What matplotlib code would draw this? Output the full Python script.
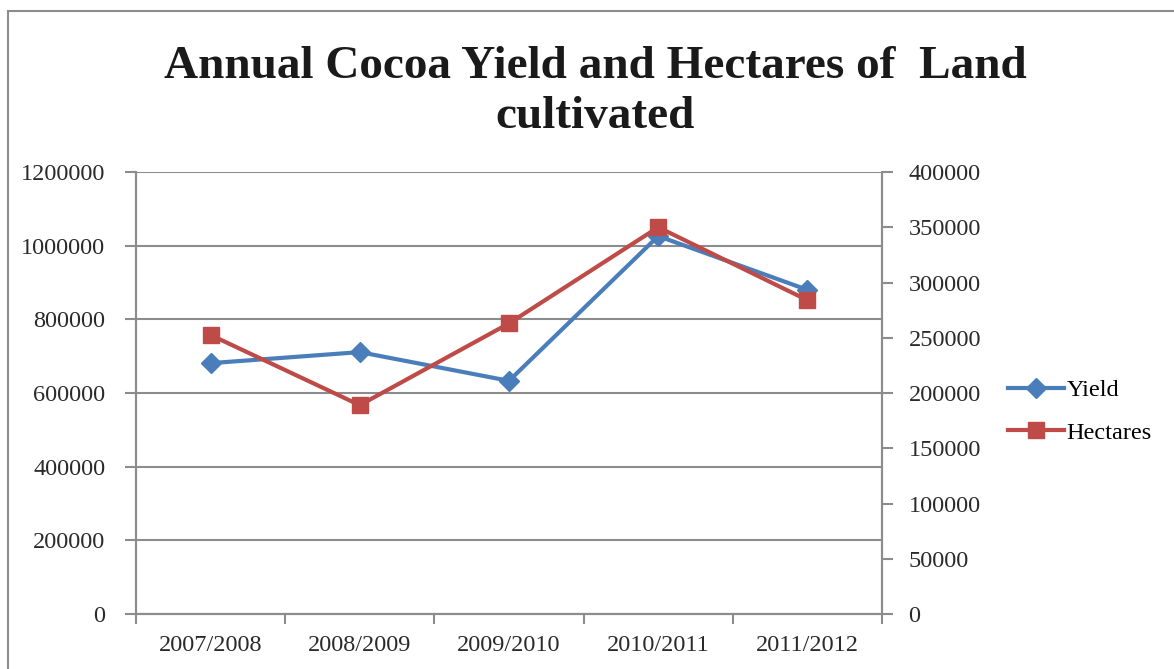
import matplotlib.pyplot as plt
from matplotlib.patches import Rectangle
from matplotlib.lines import Line2D
from matplotlib.ticker import StrMethodFormatter

plt.rcParams['font.family'] = ['Liberation Serif', 'DejaVu Serif']

seasons = ["2007/2008", "2008/2009", "2009/2010", "2010/2011", "2011/2012"]
yield_vals = [681000, 711000, 633000, 1026000, 880000]
hectares_vals = [252500, 189000, 263000, 350000, 284000]

blue = "#4A7EBB"
red = "#BE4B48"
grid_c = "#8C8C8C"
lab_size = 17.5

fig = plt.figure(figsize=(11.74, 6.69), dpi=100)
ax = fig.add_axes([0.1158, 0.0822, 0.6355, 0.6607])
ax2 = ax.twinx()

# outer chart frame
fig.patches.append(Rectangle((8 / 1174, -0.05), 1.2, (669 - 11) / 669 + 0.05,
                             transform=fig.transFigure, fill=False,
                             edgecolor="#8C8C8C", linewidth=1.5))

x = range(len(seasons))
ax.plot(x, yield_vals, color=blue, lw=3, marker="D", ms=10, zorder=3)
ax2.plot(x, hectares_vals, color=red, lw=3, marker="s", ms=11, zorder=3)

ax.set_xlim(-0.5, 4.5)
ax.set_ylim(0, 1200000)
ax2.set_ylim(0, 400000)
ax.set_yticks(range(0, 1200001, 200000))
ax2.set_yticks(range(0, 400001, 50000))
ax.yaxis.set_major_formatter(StrMethodFormatter("{x:.0f}"))
ax2.yaxis.set_major_formatter(StrMethodFormatter("{x:.0f}"))

ax.set_xticks([i + 0.5 for i in range(-1, 5)])
ax.set_xticklabels([])
ax.set_xticks(list(x), minor=True)
ax.set_xticklabels(seasons, minor=True)
ax.tick_params(axis="x", which="minor", length=0, pad=15, labelsize=lab_size)
ax.tick_params(axis="x", which="major", length=7, color=grid_c, width=1.5)
ax.tick_params(axis="y", length=8, color=grid_c, width=1.5, pad=14, labelsize=lab_size)
ax2.tick_params(axis="y", length=8, color=grid_c, width=1.5, pad=11, labelsize=lab_size)

ax.grid(axis="y", color=grid_c, lw=1.5)
for a in (ax, ax2):
    a.spines["top"].set_visible(False)
    for s in ("left", "right", "bottom"):
        a.spines[s].set_color(grid_c)
        a.spines[s].set_linewidth(1.5)
for t in ax.get_yticklabels() + ax2.get_yticklabels() + ax.get_xticklabels(minor=True):
    t.set_color("#2a2a2a")

fig.text(0.507, 0.862, "Annual Cocoa Yield and Hectares of  Land\ncultivated",
         ha="center", va="center", fontsize=34, fontweight="bold",
         color="#1a1a1a", linespacing=1.25)

handles = [Line2D([], [], color=blue, lw=3, marker="D", ms=10),
           Line2D([], [], color=red, lw=3, marker="s", ms=11)]
fig.legend(handles, ["Yield", "Hectares"], loc="center left",
           bbox_to_anchor=(0.84, 0.385), frameon=False, fontsize=lab_size,
           handlelength=2.3, handletextpad=0.1, labelspacing=0.85)

fig.savefig("out.png", dpi=100, facecolor="white")
